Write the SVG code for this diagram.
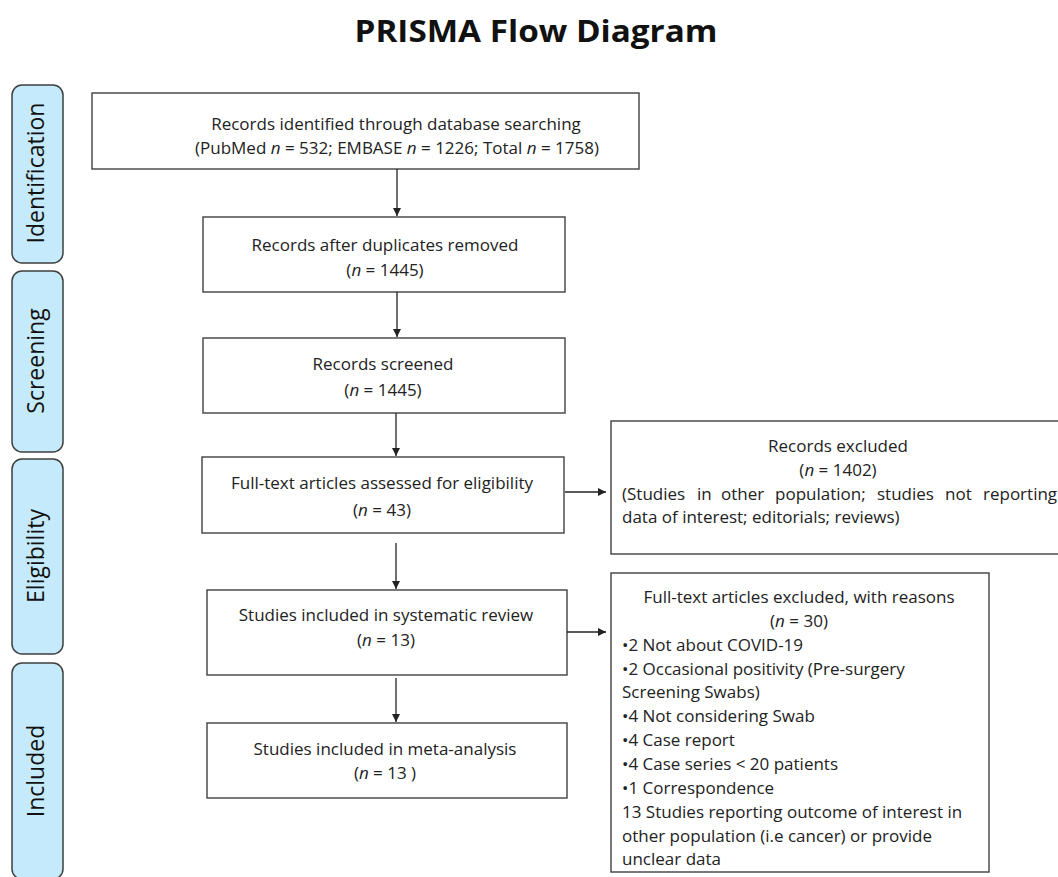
<svg xmlns="http://www.w3.org/2000/svg" width="1058" height="877" viewBox="0 0 1058 877">
<style>
.bg{fill:#ffffff}
.side{fill:#C5EAFB;stroke:#3f3f3f;stroke-width:1.5}
.box{fill:#ffffff;stroke:#404040;stroke-width:1.4}
.t{font-family:"Open Sans","Liberation Sans",sans-serif;font-size:17px;fill:#222}
.c{text-anchor:middle}
.sl{font-family:"Open Sans","Liberation Sans",sans-serif;font-size:23px;fill:#111;text-anchor:middle}
.title{font-family:"Open Sans","Liberation Sans",sans-serif;font-size:30px;font-weight:bold;fill:#111;text-anchor:middle}
.ln{stroke:#222;stroke-width:1.3;fill:none}
.i{font-style:italic}
</style>
<defs>
<marker id="ah" viewBox="0 0 10 10" refX="10" refY="5" markerWidth="8" markerHeight="8" markerUnits="userSpaceOnUse" orient="auto">
<path d="M0,0 L10,5 L0,10 z" fill="#222"/>
</marker>
</defs>
<rect class="bg" x="0" y="0" width="1058" height="877"/>
<text class="title" x="536" y="42" textLength="363" lengthAdjust="spacingAndGlyphs">PRISMA Flow Diagram</text>

<g id="stage-identification">
<rect class="side" x="12" y="85" width="51" height="178" rx="10"/>
<text class="sl" transform="translate(44,173) rotate(-90)">Identification</text>
</g>
<g id="stage-screening">
<rect class="side" x="12" y="271" width="51" height="181" rx="10"/>
<text class="sl" transform="translate(44,361) rotate(-90)">Screening</text>
</g>
<g id="stage-eligibility">
<rect class="side" x="12" y="459" width="51" height="195" rx="10"/>
<text class="sl" transform="translate(44,556) rotate(-90)">Eligibility</text>
</g>
<g id="stage-included">
<rect class="side" x="12" y="663" width="51" height="216" rx="10"/>
<text class="sl" transform="translate(44,771) rotate(-90)">Included</text>
</g>

<g id="n-identified">
<rect class="box" x="92" y="93" width="547" height="76"/>
<text class="t c" x="396" y="130">Records identified through database searching</text>
<text class="t c" x="397" y="154">(PubMed <tspan class="i">n</tspan> = 532; EMBASE <tspan class="i">n</tspan> = 1226; Total <tspan class="i">n</tspan> = 1758)</text>
</g>
<g id="n-duplicates">
<rect class="box" x="203" y="217" width="362" height="75"/>
<text class="t c" x="385" y="251">Records after duplicates removed</text>
<text class="t c" x="385" y="276">(<tspan class="i">n</tspan> = 1445)</text>
</g>
<g id="n-screened">
<rect class="box" x="203" y="338" width="362" height="75"/>
<text class="t c" x="383" y="370">Records screened</text>
<text class="t c" x="383" y="396">(<tspan class="i">n</tspan> = 1445)</text>
</g>
<g id="n-fulltext">
<rect class="box" x="202" y="457" width="362" height="76"/>
<text class="t c" x="382" y="489">Full-text articles assessed for eligibility</text>
<text class="t c" x="382" y="516">(<tspan class="i">n</tspan> = 43)</text>
</g>
<g id="n-systematic">
<rect class="box" x="207" y="590" width="360" height="85"/>
<text class="t c" x="386" y="621">Studies included in systematic review</text>
<text class="t c" x="386" y="646">(<tspan class="i">n</tspan> = 13)</text>
</g>
<g id="n-meta">
<rect class="box" x="207" y="723" width="360" height="75"/>
<text class="t c" x="385" y="755">Studies included in meta-analysis</text>
<text class="t c" x="385" y="779">(<tspan class="i">n</tspan> = 13 )</text>
</g>

<g id="n-excluded">
<rect class="box" x="611" y="421" width="460" height="133"/>
<text class="t c" x="838" y="452">Records excluded</text>
<text class="t c" x="838" y="476">(<tspan class="i">n</tspan> = 1402)</text>
<text class="t" y="500"><tspan x="622">(Studies</tspan><tspan x="697">in</tspan><tspan x="721">other</tspan><tspan x="775">population;</tspan><tspan x="877">studies</tspan><tspan x="945">not</tspan><tspan x="983">reporting</tspan></text>
<text class="t" x="622" y="523">data of interest; editorials; reviews)</text>
</g>

<g id="n-fulltext-excluded">
<rect class="box" x="611" y="573" width="378" height="299"/>
<text class="t c" x="799" y="603">Full-text articles excluded, with reasons</text>
<text class="t c" x="799" y="627">(<tspan class="i">n</tspan> = 30)</text>
<text class="t" x="622" y="651">•2 Not about COVID-19</text>
<text class="t" x="622" y="675">•2 Occasional positivity (Pre-surgery</text>
<text class="t" x="622" y="698">Screening Swabs)</text>
<text class="t" x="622" y="722">•4 Not considering Swab</text>
<text class="t" x="622" y="746">•4 Case report</text>
<text class="t" x="622" y="770">•4 Case series &lt; 20 patients</text>
<text class="t" x="622" y="794">•1 Correspondence</text>
<text class="t" x="622" y="818">13 Studies reporting outcome of interest in</text>
<text class="t" x="622" y="842">other population (i.e cancer) or provide</text>
<text class="t" x="622" y="865">unclear data</text>
</g>

<g id="connectors">
<line class="ln" x1="397" y1="169" x2="397" y2="216" marker-end="url(#ah)"/>
<line class="ln" x1="397" y1="292" x2="397" y2="337" marker-end="url(#ah)"/>
<line class="ln" x1="396" y1="413" x2="396" y2="456" marker-end="url(#ah)"/>
<line class="ln" x1="396" y1="543" x2="396" y2="589" marker-end="url(#ah)"/>
<line class="ln" x1="396" y1="678" x2="396" y2="722" marker-end="url(#ah)"/>
<line class="ln" x1="565" y1="492" x2="606" y2="492" marker-end="url(#ah)"/>
<line class="ln" x1="567" y1="632" x2="606" y2="632" marker-end="url(#ah)"/>
</g>
</svg>
